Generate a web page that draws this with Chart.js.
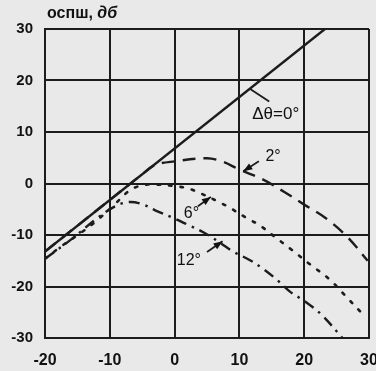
<!DOCTYPE html>
<html>
<head>
<meta charset="utf-8">
<script src="https://cdn.jsdelivr.net/npm/chart.js"></script>
<style>
  html, body { margin: 0; padding: 0; background: #e9e9e9; }
  #wrap { width: 376px; height: 371px; }
</style>
</head>
<body>
<div id="wrap"><canvas id="snrChart"></canvas></div>
<script>
// series names (phase error)
const seriesNames = ['Δθ=0°', '2°', '6°', '12°'];

// Δθ = 0° (straight line)
const x0 = [-20, 23.2];
const y0 = [-13.2, 30];

// Δθ = 2°
const x2 = [-20, -10, -5, -3, 0, 5, 7.5, 10, 13.6, 17, 20, 23.4, 26.6, 29.8];
const y2 = [-13.2, -3.2, 1.8, 3.6, 4.3, 4.9, 4.2, 2.7, 0.8, -1.7, -4.1, -6.8, -10.3, -15];

// Δθ = 6°
const x6 = [-20, -17.5, -14.6, -12, -9.3, -7, -5.2, -3.3, 0, 2.2, 4, 7, 8.5, 11.5, 13, 15.4, 18, 20.9, 23.9, 26.2, 29.5];
const y6 = [-14.6, -12.2, -9.7, -7.2, -4.1, -1.4, -0.4, -0.2, -0.5, -1, -1.9, -3.7, -4.7, -7, -8, -10.3, -12.8, -15.7, -18.6, -21.6, -26];

// Δθ = 12°
const x12 = [-20, -16, -12, -9, -7, -5, -3, 0, 2, 4.5, 7, 9, 11.5, 13.6, 15.7, 17.8, 20, 22.7, 25.9];
const y12 = [-14.6, -10.9, -6.8, -4.3, -3.6, -4, -5.2, -6.8, -8, -9.5, -11.5, -13.2, -14.8, -16.5, -18.6, -21, -22.8, -25.5, -30];

const xTicks = [-20, -10, 0, 10, 20, 30];
const yTicks = [-30, -20, -10, 0, 10, 20, 30];

const ink = '#1c1c1c';
const fontFam = '"Liberation Sans", Arial, sans-serif';
const pts = (xs, ys) => xs.map((x, i) => ({ x: x, y: ys[i] }));

// labels, arrows and axis caption
const notes = {
  id: 'notes',
  beforeDraw(chart) {
    const c = chart.ctx;
    c.save();
    c.fillStyle = '#e9e9e9';
    c.fillRect(0, 0, chart.width, chart.height);
    c.restore();
  },
  afterDraw(chart) {
    const c = chart.ctx;
    const sx = chart.scales.x, sy = chart.scales.y;
    const px = v => sx.getPixelForValue(v);
    const py = v => sy.getPixelForValue(v);

    c.save();
    c.fillStyle = '#111';
    c.strokeStyle = ink;
    c.textBaseline = 'middle';

    // y caption
    c.font = 'bold 16px ' + fontFam;
    c.textAlign = 'left';
    c.fillText('оспш, ', 47, 14);
    const w = c.measureText('оспш, ').width;
    c.font = 'italic bold 16px ' + fontFam;
    c.fillText('дб', 47 + w, 14);

    function arrow(xa, ya, xb, yb, head) {
      const ax = px(xa), ay = py(ya), bx = px(xb), by = py(yb);
      c.lineWidth = 1.8;
      c.beginPath();
      c.moveTo(ax, ay);
      c.lineTo(bx, by);
      c.stroke();
      if (!head) return;
      const ang = Math.atan2(by - ay, bx - ax);
      const L = 9, W = 3.5;
      c.beginPath();
      c.moveTo(bx, by);
      c.lineTo(bx - L * Math.cos(ang) + W * Math.sin(ang), by - L * Math.sin(ang) - W * Math.cos(ang));
      c.lineTo(bx - L * Math.cos(ang) - W * Math.sin(ang), by - L * Math.sin(ang) + W * Math.cos(ang));
      c.closePath();
      c.fill();
    }

    c.textAlign = 'center';
    c.font = '17px ' + fontFam;
    c.fillText(seriesNames[0], px(15.6), py(13.4));
    arrow(14.6, 15.9, 11.6, 18.4, false);

    c.font = '16px ' + fontFam;
    c.fillText(seriesNames[1], px(15.2), py(5.2));
    arrow(13.0, 4.3, 10.6, 2.4, true);

    c.fillText(seriesNames[2], px(2.6), py(-5.8));
    arrow(3.6, -4.4, 5.6, -2.6, true);

    c.fillText(seriesNames[3], px(2.2), py(-14.9));
    arrow(5, -13.3, 7.4, -11.2, true);

    c.restore();
  }
};

new Chart(document.getElementById('snrChart'), {
  type: 'line',
  data: {
    datasets: [
      {
        label: seriesNames[0],
        data: pts(x0, y0),
        borderColor: ink,
        borderWidth: 2.4,
        tension: 0,
      },
      {
        label: seriesNames[1],
        data: pts(x2, y2),
        borderColor: ink,
        borderWidth: 2.4,
        borderDash: [13, 8],
        tension: 0.35,
      },
      {
        label: seriesNames[2],
        data: pts(x6, y6),
        borderColor: ink,
        borderWidth: 2.6,
        borderDash: [2.5, 9],
        borderCapStyle: 'round',
        tension: 0.35,
      },
      {
        label: seriesNames[3],
        data: pts(x12, y12),
        borderColor: ink,
        borderWidth: 2.4,
        borderDash: [11, 6, 2.5, 6],
        tension: 0.35,
      },
    ],
  },
  options: {
    responsive: true,
    maintainAspectRatio: false,
    animation: false,
    layout: { padding: { top: 29, right: 7, left: 0, bottom: 0 } },
    elements: { point: { radius: 0 } },
    plugins: {
      legend: { display: false },
      tooltip: { enabled: false },
    },
    scales: {
      x: {
        type: 'linear',
        min: xTicks[0],
        max: xTicks[xTicks.length - 1],
        afterBuildTicks: (s) => { s.ticks = xTicks.map(v => ({ value: v })); },
        afterFit: (s) => { s.height = 33; s.paddingLeft = 0; s.paddingRight = 0; },
        ticks: {
          color: '#111',
          padding: 13,
          maxRotation: 0,
          font: { family: fontFam, size: 16, weight: 'bold' },
        },
        grid: { color: ink, lineWidth: 2, drawTicks: false },
        border: { color: ink, width: 2 },
      },
      y: {
        min: yTicks[0],
        max: yTicks[yTicks.length - 1],
        afterBuildTicks: (s) => { s.ticks = yTicks.map(v => ({ value: v })); },
        afterFit: (s) => { s.width = 45; s.paddingTop = 0; s.paddingBottom = 0; },
        ticks: {
          color: '#111',
          padding: 12,
          font: { family: fontFam, size: 15, weight: 'bold' },
        },
        grid: { color: ink, lineWidth: 2, drawTicks: false },
        border: { color: ink, width: 2 },
      },
    },
  },
  plugins: [notes],
});
</script>
</body>
</html>
